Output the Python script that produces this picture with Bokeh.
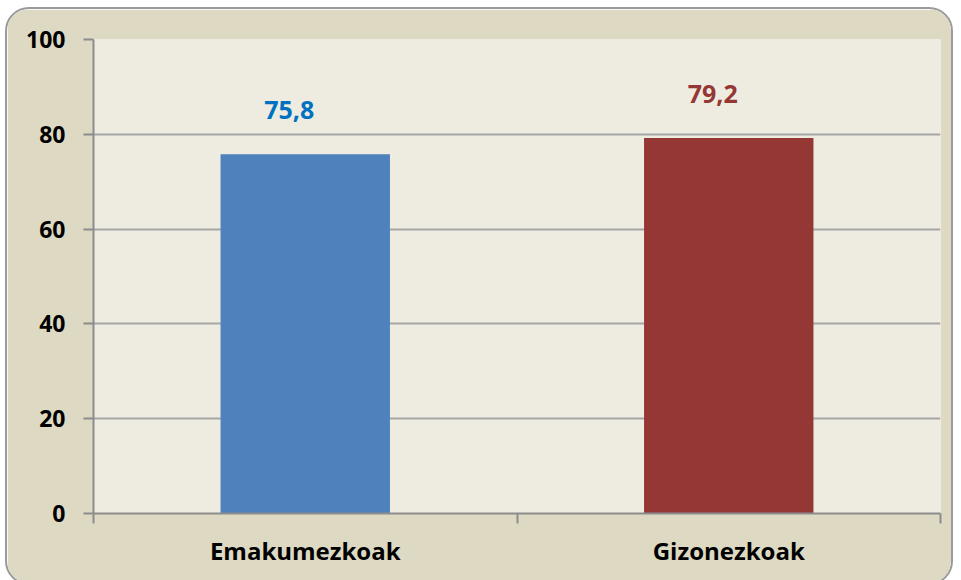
from bokeh.plotting import figure
from bokeh.models import FixedTicker, ColumnDataSource, Range1d
from bokeh.embed import file_html
from bokeh.resources import INLINE
from bokeh.core.properties import value

categories = ["Emakumezkoak", "Gizonezkoak"]
values = [75.8, 79.2]
bar_colors = ["#4F81BD", "#953735"]
label_colors = ["#0070C0", "#953735"]
y_ticks = [0, 20, 40, 60, 80, 100]

FONT = "Open Sans"

xs = [i + 0.5 for i in range(len(categories))]
src = ColumnDataSource(dict(
    x=xs, top=values, color=bar_colors, lcolor=label_colors,
    label=[f"{v:.1f}".replace(".", ",") for v in values],
))

p = figure(width=948, height=578, output_backend="svg", toolbar_location=None,
           x_range=Range1d(0, len(categories)), y_range=Range1d(0, 100),
           min_border_left=86, min_border_right=15, min_border_top=30, min_border_bottom=74)
p.background_fill_color = "#EEECE1"
p.border_fill_color = "#DDD9C3"
p.outline_line_color = None
p.styles = {"border": "2px solid #9A9A9A", "border-radius": "24px", "overflow": "hidden",
            "box-sizing": "border-box", "margin-left": "5px", "margin-top": "7px"}

p.vbar(x="x", top="top", width=0.4, bottom=0, color="color", source=src, line_color=None)
p.text(x="x", y="top", text="label", source=src, text_color="lcolor",
       text_font=value(FONT), text_font_style="bold", text_font_size="25px",
       text_align="center", text_baseline="middle", x_offset=-16, y_offset=-44)

p.yaxis.ticker = FixedTicker(ticks=y_ticks)
p.yaxis.major_label_text_font = FONT
p.yaxis.major_label_text_font_style = "bold"
p.yaxis.major_label_text_font_size = "23px"
p.yaxis.major_label_text_color = "#000000"
p.yaxis.major_tick_out = 10
p.yaxis.major_tick_in = 0
p.yaxis.minor_tick_line_color = None
p.yaxis.axis_line_color = "#8C8C8C"
p.yaxis.major_tick_line_color = "#8C8C8C"
p.yaxis.axis_line_width = 2
p.yaxis.major_tick_line_width = 2
p.yaxis.major_label_standoff = 18

p.xaxis.ticker = FixedTicker(ticks=xs, minor_ticks=list(range(len(categories) + 1)))
p.xaxis.major_label_overrides = {x: c for x, c in zip(xs, categories)}
p.xaxis.major_label_text_font = FONT
p.xaxis.major_label_text_font_style = "bold"
p.xaxis.major_label_text_font_size = "24px"
p.xaxis.major_label_text_color = "#000000"
p.xaxis.major_tick_line_color = None
p.xaxis.minor_tick_out = 10
p.xaxis.minor_tick_in = 0
p.xaxis.minor_tick_line_color = "#8C8C8C"
p.xaxis.minor_tick_line_width = 2
p.xaxis.axis_line_color = "#8C8C8C"
p.xaxis.axis_line_width = 2
p.xaxis.major_label_standoff = 10

p.xgrid.grid_line_color = None
p.ygrid.ticker = FixedTicker(ticks=y_ticks)
p.ygrid.grid_line_color = "#A6A6A6"
p.ygrid.grid_line_width = 2

open("out.html", "w").write(file_html(p, INLINE))
